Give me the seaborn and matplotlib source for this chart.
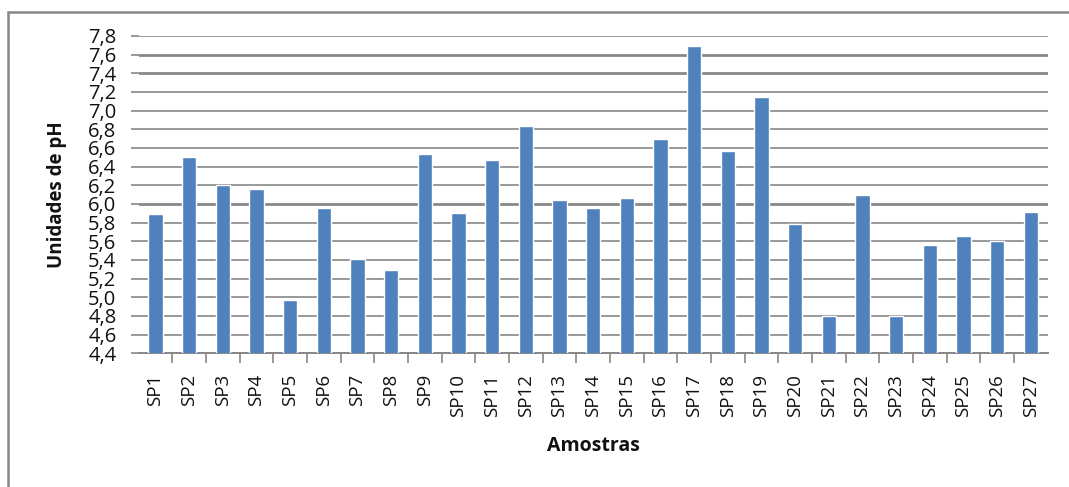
import matplotlib
matplotlib.use("Agg")
import matplotlib.pyplot as plt
from matplotlib.ticker import FixedLocator, FuncFormatter
from matplotlib.patches import Rectangle
import numpy as np
import pandas as pd
import seaborn as sns

# pH por amostra
amostras = [f"SP{i}" for i in range(1, 28)]
ph = [5.89, 6.50, 6.20, 6.16, 4.97, 5.96, 5.41, 5.29, 6.54, 5.90,
      6.47, 6.84, 6.04, 5.96, 6.06, 6.70, 7.69, 6.57, 7.15, 5.79,
      4.80, 6.10, 4.80, 5.56, 5.66, 5.60, 5.91]
y_ticks = [4.4, 4.6, 4.8, 5.0, 5.2, 5.4, 5.6, 5.8, 6.0, 6.2, 6.4, 6.6,
           6.8, 7.0, 7.2, 7.4, 7.6, 7.8]

df = pd.DataFrame({"Amostra": amostras, "pH": ph})

sns.set_theme(style="white")
plt.rcParams["font.family"] = ["Open Sans", "DejaVu Sans"]

grid_col = "#878787"
bar_col = "#4F81BD"
text_col = "#111111"

fig = plt.figure(figsize=(10.69, 4.87), dpi=100)
ax = fig.add_axes([138.7 / 1069, 1 - 353.3 / 487, 909 / 1069, 317.3 / 487])

sns.barplot(data=df, x="Amostra", y="pH", color=bar_col, saturation=1,
            width=0.42, ax=ax, zorder=3)

ax.set_ylim(4.4, 7.8)
ax.set_xlim(-0.5, len(amostras) - 0.5)
ax.yaxis.set_major_locator(FixedLocator(y_ticks))
ax.yaxis.set_major_formatter(FuncFormatter(lambda v, p: f"{v:.1f}".replace(".", ",")))
ax.grid(axis="y", color=grid_col, linewidth=1.2, zorder=0)
ax.grid(axis="x", visible=False)
# a few gridlines render heavier
for val, line in zip(y_ticks, ax.get_ygridlines()):
    if round(val, 1) in (6.0, 7.4, 7.6):
        line.set_linewidth(2.0)

for s in ["top", "right", "left"]:
    ax.spines[s].set_visible(False)
ax.spines["bottom"].set_color(grid_col)
ax.spines["bottom"].set_linewidth(1.4)

# category separators on the x axis
ax.set_xticks(np.arange(len(amostras)))
ax.set_xticklabels(amostras, rotation=90, fontsize=13.5, color=text_col)
ax.xaxis.set_minor_locator(FixedLocator(np.arange(0.5, len(amostras) - 1, 1.0)))
ax.tick_params(axis="x", which="major", length=0, pad=15)
ax.tick_params(axis="x", which="minor", length=7, width=1.2, color=grid_col,
               direction="out", bottom=True)
ax.tick_params(axis="y", length=6, width=1.2, color=grid_col, direction="out",
               left=True, labelsize=14.5, pad=10, labelcolor=text_col)

ax.set_xlabel("Amostras", fontsize=14, fontweight="bold", color=text_col)
ax.set_ylabel("Unidades de pH", fontsize=13.5, fontweight="bold", color=text_col)
ax.xaxis.set_label_coords(0.5, -0.262)
ax.yaxis.set_label_coords(-0.079, 0.5)

# chart frame
fig.patches.append(Rectangle((8 / 1069, -0.1), 1.2, 1 - 12 / 487 + 0.1,
                             transform=fig.transFigure, fill=False,
                             edgecolor=grid_col, linewidth=1.8))

fig.savefig("out.png", dpi=100, facecolor="white")
